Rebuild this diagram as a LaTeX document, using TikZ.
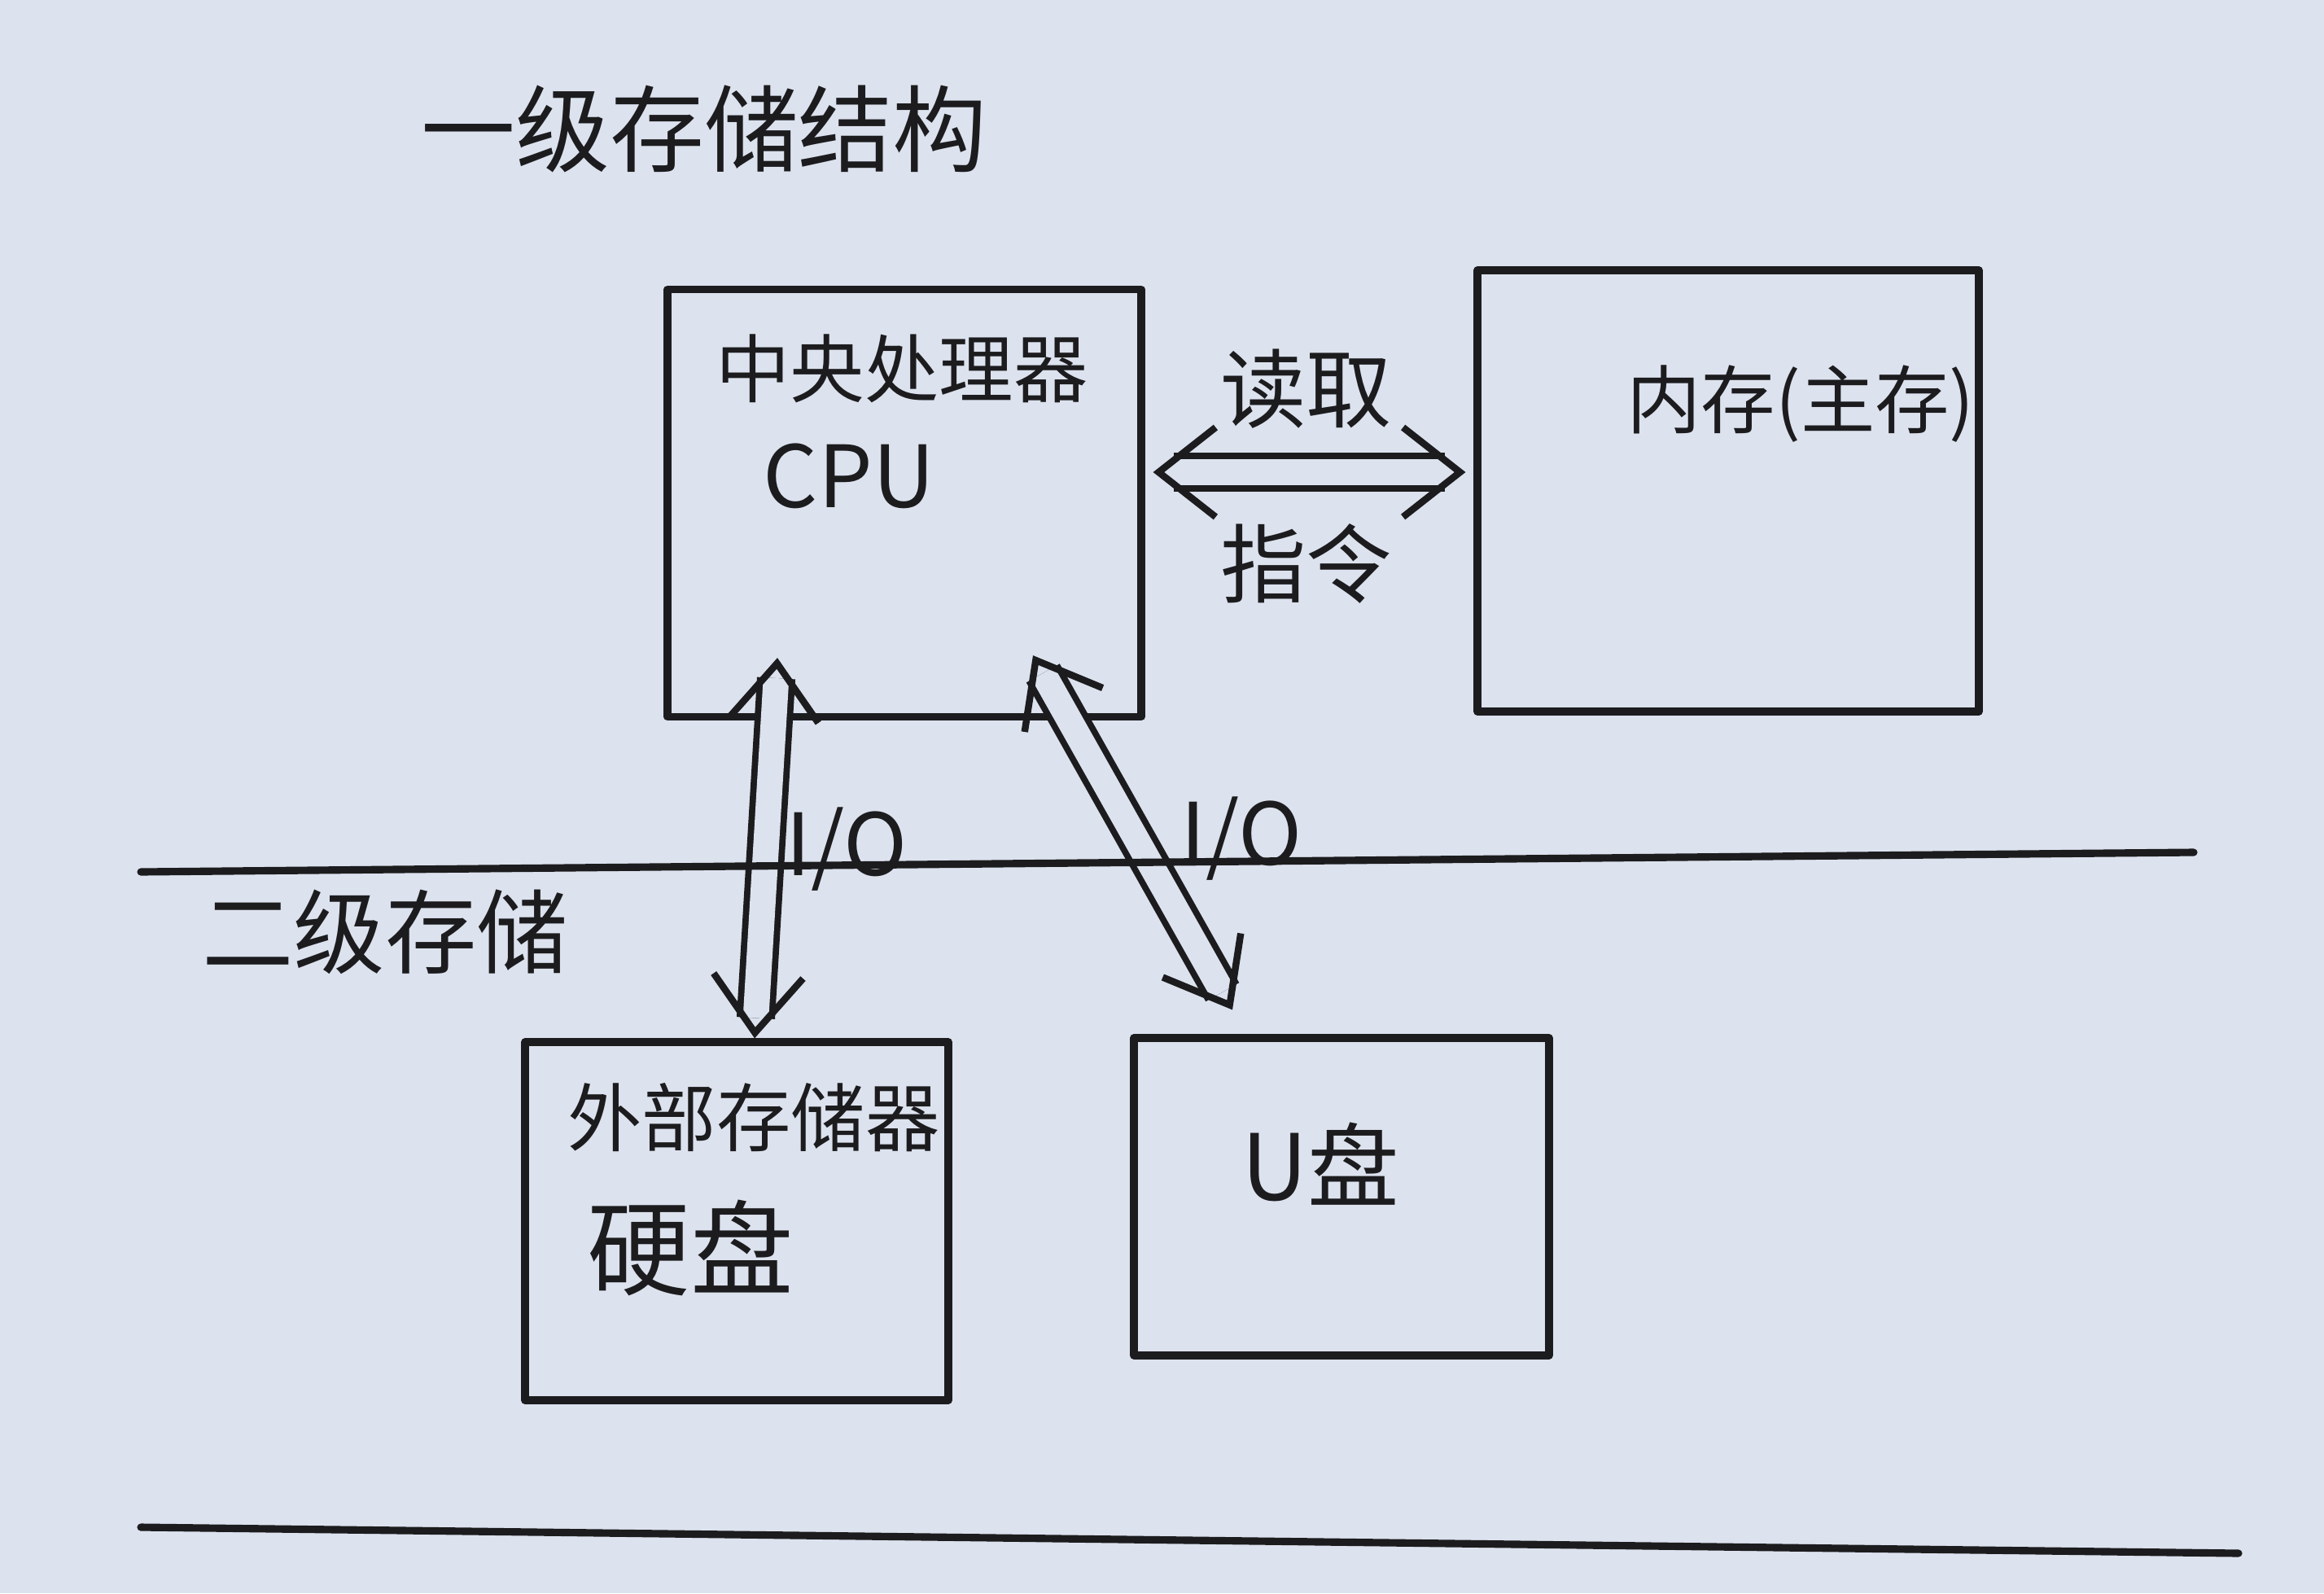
\documentclass[tikz,border=0pt]{standalone}
\usepackage{fontspec}
\setmainfont{Noto Sans CJK SC}
\usetikzlibrary{arrows.meta, positioning, calc, decorations.markings}
\definecolor{paper}{HTML}{DCE2EE}
\definecolor{ink}{HTML}{1C1C1E}

\begin{document}
\begin{tikzpicture}[
    every path/.style={line cap=round, line join=round},
    box/.style 2 args={draw=ink, line width=2.6pt, minimum width=#1, minimum height=#2, inner sep=0pt},
    lbl/.style={text=ink, inner sep=0pt, font=\fontsize{#1}{#1}\selectfont},
    lbl/.default=26pt,
    rule/.style={draw=ink, line width=2.6pt},
    dblarrow/.style={draw=ink, line width=2.2pt, double=paper, double distance=9pt, line cap=butt,
      shorten <=2.5mm, shorten >=2.5mm,
      postaction={decorate, decoration={markings,
        mark=at position 0 with {\pgfsetinnerlinewidth{0pt}\arrowreversed[line width=2.4pt, ink, line cap=round]{Straight Barb[length=7mm, width=11mm]}},
        mark=at position 1 with {\pgfsetinnerlinewidth{0pt}\arrow[line width=2.4pt, ink, line cap=round]{Straight Barb[length=7mm, width=11mm]}}}}}
  ]
    \fill[paper] (0,0) rectangle (28.55,-19.57);
    \useasboundingbox (0,0) rectangle (28.55,-19.57);
    % level one
    \node[lbl=33pt] (title) at (8.65,-1.58) {一级存储结构};
    \node[box={5.82cm}{5.25cm}] (cpu) at (11.11,-6.18) {};
    \node[box={6.16cm}{5.42cm}] (mem) at (21.23,-6.03) {};
    \node[lbl] (cpuname) at (11.08,-4.53) {中央处理器};
    \node[lbl=30pt] (cpuabbr) at (10.43,-5.85) {CPU};
    \node[lbl] (memname) at (22.12,-4.96) {内存(主存)};
    \draw[dblarrow] ([yshift=3.8mm, xshift=1mm]cpu.east) -- ([yshift=3.8mm, xshift=-1mm]cpu.east -| mem.west)
      node[lbl=30pt, pos=0.49, above=5mm] (read) {读取}
      node[lbl=30pt, pos=0.49, below=6mm] (instr) {指令};
    % level two
    \node[lbl=32pt] (second) at (4.73,-11.45) {二级存储};
    \node[box={5.20cm}{4.40cm}] (disk) at (9.05,-15.00) {};
    \node[box={5.10cm}{3.90cm}] (udisk) at (16.48,-14.70) {};
    \node[lbl] (diskname) at (9.26,-13.73) {外部存储器};
    \node[lbl=36pt] (diskhard) at (8.48,-15.33) {硬盘};
    \node[lbl=32pt] (udiskname) at (16.22,-14.30) {U盘};
    \draw[dblarrow] ([xshift=-15.6mm, yshift=7.7mm]cpu.south) -- ([xshift=2.2mm]disk.north);
    \draw[dblarrow] ([xshift=15.8mm, yshift=8mm]cpu.south) -- ([xshift=-13.4mm, yshift=3mm]udisk.north);
    \node[lbl=30pt] (io1) at (10.40,-10.43) {I/O};
    \node[lbl=30pt] (io2) at (15.25,-10.30) {I/O};
    % separators
    \draw[rule] (1.73,-10.71) -- (26.95,-10.47);
    \draw[rule] (1.73,-18.76) -- (27.50,-19.08);
  \end{tikzpicture}
\end{document}
